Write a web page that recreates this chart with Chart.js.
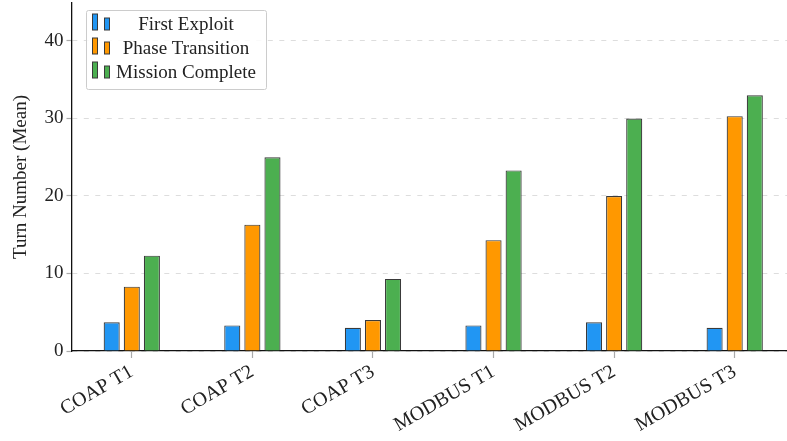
<!DOCTYPE html>
<html>
<head>
<meta charset="utf-8">
<script src="https://cdn.jsdelivr.net/npm/chart.js@4.4.1/dist/chart.umd.min.js"></script>
<style>
  html, body { margin: 0; padding: 0; background: #fff; overflow: hidden; }
  #wrap { position: relative; width: 800px; height: 441px; }
</style>
</head>
<body>
<div id="wrap"><canvas id="turnChart"></canvas></div>
<script>
// data
const scenarios = ['COAP T1', 'COAP T2', 'COAP T3', 'MODBUS T1', 'MODBUS T2', 'MODBUS T3'];
const firstExploit = [3.7, 3.3, 3.0, 3.3, 3.7, 3.0];
const phaseTransition = [8.3, 16.3, 4.0, 14.3, 20.0, 30.3];
const missionComplete = [12.3, 25.0, 9.3, 23.3, 30.0, 33.0];
const yTicks = [0, 10, 20, 30, 40];

const serif = '"Liberation Serif", "Times New Roman", serif';
const edge = '#3a3a3a';

// legend drawn inside the plot, top left, like the original
const insideLegend = {
    id: 'insideLegend',
    afterDraw(chart) {
        const ctx = chart.ctx;
        const x0 = 86, y0 = 10, w = 180, h = 79;
        ctx.save();
        ctx.fillStyle = 'rgba(255,255,255,0.85)';
        ctx.strokeStyle = '#cccccc';
        ctx.lineWidth = 1;
        ctx.beginPath();
        ctx.roundRect(x0 + 0.5, y0 + 0.5, w, h, 2);
        ctx.fill();
        ctx.stroke();

        chart.data.datasets.forEach((ds, i) => {
            const cy = 25 + i * 24;
            ctx.fillStyle = ds.backgroundColor;
            ctx.strokeStyle = edge;
            ctx.lineWidth = 1;
            ctx.fillRect(92.5, cy - 11, 5, 16);
            ctx.strokeRect(92.5, cy - 11, 5, 16);
            ctx.fillRect(104.5, cy - 7, 5, 12);
            ctx.strokeRect(104.5, cy - 7, 5, 12);

            ctx.fillStyle = '#222';
            ctx.font = '19px ' + serif;
            ctx.textAlign = 'center';
            ctx.textBaseline = 'middle';
            ctx.fillText(ds.label, 186, cy);
        });
        ctx.restore();
    }
};

const ctx = document.getElementById('turnChart').getContext('2d');
new Chart(ctx, {
    type: 'bar',
    data: {
        labels: scenarios,
        datasets: [{
            label: 'First Exploit',
            data: firstExploit,
            backgroundColor: '#2196F3'
        }, {
            label: 'Phase Transition',
            data: phaseTransition,
            backgroundColor: '#FF9800'
        }, {
            label: 'Mission Complete',
            data: missionComplete,
            backgroundColor: '#4CAF50'
        }]
    },
    options: {
        responsive: true,
        maintainAspectRatio: false,
        animation: false,
        devicePixelRatio: 1,
        layout: { padding: { top: 3, right: 5, left: 0, bottom: 0 } },
        datasets: {
            bar: {
                categoryPercentage: 0.5,
                barPercentage: 0.8,
                borderColor: edge,
                borderWidth: 1.2
            }
        },
        plugins: {
            legend: { display: false },
            tooltip: { enabled: false }
        },
        scales: {
            x: {
                offset: true,
                afterFit(scale) {
                    scale.height = 90;
                    scale.paddingLeft = 0;
                    scale.paddingRight = 0;
                },
                grid: {
                    offset: false,
                    drawOnChartArea: false,
                    tickLength: 7,
                    tickColor: '#aaaaaa',
                    tickWidth: 1.2
                },
                border: { color: '#111', width: 1.3 },
                ticks: {
                    color: '#222',
                    font: { family: serif, size: 20 },
                    minRotation: 30,
                    maxRotation: 30,
                    padding: 2
                }
            },
            y: {
                min: 0,
                max: 44.9,
                afterFit(scale) {
                    scale.width = 71.5;
                    scale.paddingTop = 0;
                    scale.paddingBottom = 0;
                },
                afterBuildTicks(scale) {
                    scale.ticks = yTicks.map(v => ({ value: v }));
                },
                grid: {
                    color: '#dddddd',
                    lineWidth: 1,
                    tickLength: 5,
                    tickColor: '#aaaaaa',
                    tickWidth: 1.2
                },
                border: { color: '#111', width: 1.3, dash: [5, 6.5] },
                ticks: {
                    color: '#222',
                    font: { family: serif, size: 19 },
                    padding: 3
                },
                title: {
                    display: true,
                    text: 'Turn Number (Mean)',
                    color: '#222',
                    font: { family: serif, size: 19 },
                    padding: { top: 10, bottom: 4 }
                }
            }
        }
    },
    plugins: [insideLegend]
});
</script>
</body>
</html>
